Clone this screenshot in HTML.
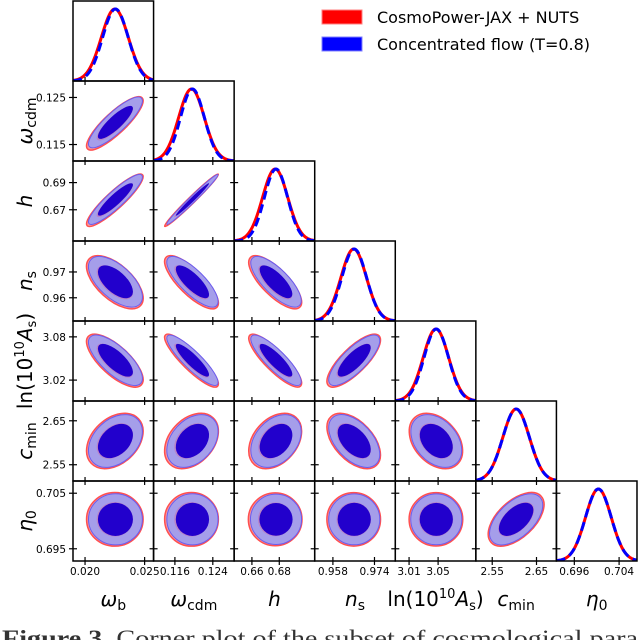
<!DOCTYPE html>
<html><head><meta charset="utf-8"><style>
html,body{margin:0;padding:0;background:#fff;}
svg{display:block;font-family:"DejaVu Sans","Liberation Sans",sans-serif;}
</style></head><body>
<svg id="c" width="640" height="640" viewBox="0 0 640 640" xmlns="http://www.w3.org/2000/svg">
<g>
<rect x="322" y="10" width="40" height="14" fill="#ff0000" stroke="#ff8080"/>
<text x="377" y="23" font-size="16">CosmoPower-JAX + NUTS</text>
<rect x="322" y="37" width="40" height="14" fill="#0000ff" stroke="#8080ff"/>
<text x="377" y="50" font-size="16">Concentrated flow (T=0.8)</text>
</g>
<text x="2" y="646" font-size="23" textLength="636" lengthAdjust="spacingAndGlyphs" font-family="Liberation Serif, serif" fill="#333"><tspan font-weight="bold">Figure 3.</tspan>  Corner plot of the subset of cosmological para</text>
</svg>
<script>
const paramNames = ["omega_b","omega_cdm","h","n_s","lnAs","c_min","eta_0"];
const lows  = [0.01899, 0.1115, 0.647, 0.951, 2.991, 2.513, 0.6928];
const highs = [0.02575, 0.1285, 0.7059, 0.982, 3.102, 2.695, 0.7072];
const means = [0.0225, 0.1195, 0.677, 0.966, 3.047, 2.604, 0.7003];
const sds   = [0.00113, 0.0027, 0.0092, 0.0049, 0.0175, 0.030, 0.0023];
const flowMeanShift = [0.00005, 0.0002, 0.0006, 0.0002, 0.0005, 0.0, 0.0];
const flowSdScale = [0.95, 0.93, 0.92, 0.97, 0.96, 1.0, 1.0];
const tickVals = [[0.020,0.025],[0.116,0.124],[0.66,0.68],[0.958,0.974],[3.01,3.05],[2.55,2.65],[0.696,0.704]];
const tickLabels = [["0.020","0.025"],["0.116","0.124"],["0.66","0.68"],["0.958","0.974"],["3.01","3.05"],["2.55","2.65"],["0.696","0.704"]];
const yTickVals = [[],[0.115,0.125],[0.67,0.69],[0.96,0.97],[3.02,3.08],[2.55,2.65],[0.695,0.705]];
const yTickLabels = [[],["0.115","0.125"],["0.67","0.69"],["0.96","0.97"],["3.02","3.08"],["2.55","2.65"],["0.695","0.705"]];
const corrRows = [
 [1],
 [0.85,1],
 [0.9,0.985,1],
 [-0.6,-0.78,-0.75,1],
 [-0.72,-0.88,-0.85,0.78,1],
 [0.35,0.35,0.35,-0.5,-0.35,1],
 [0.0,0.0,0.0,0.0,0.0,0.55,1]
];
const axisLabelHTML = [
 ['ω','b'],['ω','cdm'],['h',''],['n','s'],['ln(10¹⁰','A','s',')'],['c','min'],['η','0']
];

const svg=document.getElementById('c');
const NS='http://www.w3.org/2000/svg';
const X0=73,Y0=1,PW=80.57,PH=80.0,N=7;
const K95=2.0,K68=1.3;
function el(t,a,p){const e=document.createElementNS(NS,t);for(const k in a)e.setAttribute(k,a[k]);(p||svg).appendChild(e);return e;}
function xs(i,v,c){return X0+c*PW+(v-lows[i])/(highs[i]-lows[i])*PW;}
function ys(i,v,r){return Y0+(r+1)*PH-(v-lows[i])/(highs[i]-lows[i])*PH;}
function corr(a,b){return a>b?corrRows[a][b]:corrRows[b][a];}

function ellipse(g,mx,my,sx,sy,rho,k,fill,stroke,sw,name){
  const a=sx*sx,d=sy*sy,b=-rho*sx*sy;
  const tr=(a+d)/2,det=Math.sqrt(((a-d)/2)**2+b*b);
  const l1=tr+det,l2=Math.max(tr-det,1e-9);
  const ang=Math.atan2(l1-a,b)*180/Math.PI;
  const e=el('ellipse',{cx:mx,cy:my,rx:k*Math.sqrt(l1),ry:k*Math.sqrt(l2),transform:`rotate(${b===0?0:ang} ${mx} ${my})`,fill:fill,stroke:stroke,'stroke-width':sw},g);
  
  
}

const defs=el('defs',{});
for(let r=0;r<N;r++){
  for(let c=0;c<=r;c++){
    const px=X0+c*PW,py=Y0+r*PH;
    const cp=el('clipPath',{id:`cp${r}_${c}`},defs);
    el('rect',{x:px,y:py,width:PW,height:PH},cp);
    const g=el('g',{'clip-path':`url(#cp${r}_${c})`});
    
    
    if(r===c){
      const i=c;
      const sets=[[means[i],sds[i],'#ff0000',null,'nuts-density'],[means[i]+flowMeanShift[i],sds[i]*flowSdScale[i],'#0000ff','9 5','flow-density']];
      for(const [m,s,col,dash,nm] of sets){
        let pts=[];
        for(let k=0;k<=160;k++){
          const v=lows[i]+(highs[i]-lows[i])*k/160;
          const yv=Math.exp(-0.5*((v-m)/s)**2);
          pts.push(xs(i,v,c).toFixed(2)+','+(py+PH-yv*PH*0.9).toFixed(2));
        }
        const pl=el('polyline',{points:pts.join(' '),fill:'none',stroke:col,'stroke-width':3},g);
        if(dash)pl.setAttribute('stroke-dasharray',dash);
        
        
      }
    } else {
      const mx=xs(c,means[c],c),my=ys(r,means[r],r);
      const sx=sds[c]/(highs[c]-lows[c])*PW, sy=sds[r]/(highs[r]-lows[r])*PH;
      const rho=corr(r,c);
      const mfx=xs(c,means[c]+flowMeanShift[c],c),mfy=ys(r,means[r]+flowMeanShift[r],r);
      ellipse(g,mx,my,sx*1.05,sy*1.05,rho,K95,'#fb9a9a','#ff5050',1.5,'nuts-contour-95');
      ellipse(g,mfx,mfy,sx,sy,rho,K95,'#a59eea','#6a5cf0',1,'flow-contour-95');
      ellipse(g,mx,my,sx*1.04,sy*1.04,rho,K68,'#b884c8','none',0,'nuts-contour-68');
      ellipse(g,mfx,mfy,sx,sy,rho,K68,'#2200cc','none',0,'flow-contour-68');
    }
    const fr=el('rect',{x:px,y:py,width:PW,height:PH,fill:'none',stroke:'#000','stroke-width':1.5});
    
    
    tickVals[c].forEach(v=>{const x=xs(c,v,c);const t=el('line',{x1:x,x2:x,y1:py+PH-4,y2:py+PH+4,stroke:'#000','stroke-width':1.2});
      });
    if(r>0) yTickVals[r].forEach(v=>{const y=ys(r,v,r);const t=el('line',{x1:px-4,x2:px+4,y1:y,y2:y,stroke:'#000','stroke-width':1.2});
      });
  }
}
for(let c=0;c<N;c++){
  tickVals[c].forEach((v,j)=>{const t=el('text',{x:xs(c,v,c),y:575,'font-size':10.5,'text-anchor':'middle'});t.textContent=tickLabels[c][j];
    });
}
for(let r=1;r<N;r++){
  yTickVals[r].forEach((v,j)=>{const t=el('text',{x:66,y:ys(r,v,r)+4,'font-size':10.5,'text-anchor':'end'});t.textContent=yTickLabels[r][j];
    });
}
function mathLabel(parent,i,attrs){
  const t=el('text',attrs,parent);
  const L=axisLabelHTML[i];
  if(i===4){
    const a=el('tspan',{},t);a.textContent='ln(10';
    const s=el('tspan',{'font-size':13,dy:-8},t);s.textContent='10';
    const b=el('tspan',{'font-style':'italic',dy:8},t);b.textContent='A';
    const s2=el('tspan',{'font-size':13,dy:4},t);s2.textContent='s';
    const e=el('tspan',{dy:-4},t);e.textContent=')';
  } else {
    const a=el('tspan',{'font-style':'italic'},t);a.textContent=L[0];
    if(L[1]){const s=el('tspan',{'font-size':14,dy:4},t);s.textContent=L[1];}
  }
  return t;
}
for(let c=0;c<N;c++){
  const t=mathLabel(svg,c,{x:X0+c*PW+PW/2,y:606,'font-size':20,'text-anchor':'middle'});
  
  
}
for(let r=1;r<N;r++){
  const cy=Y0+r*PH+PH/2;
  const t=mathLabel(svg,r,{x:0,y:0,'font-size':20,'text-anchor':'middle',transform:`translate(32 ${cy}) rotate(-90)`});
  
  
}
</script>
</body></html>
